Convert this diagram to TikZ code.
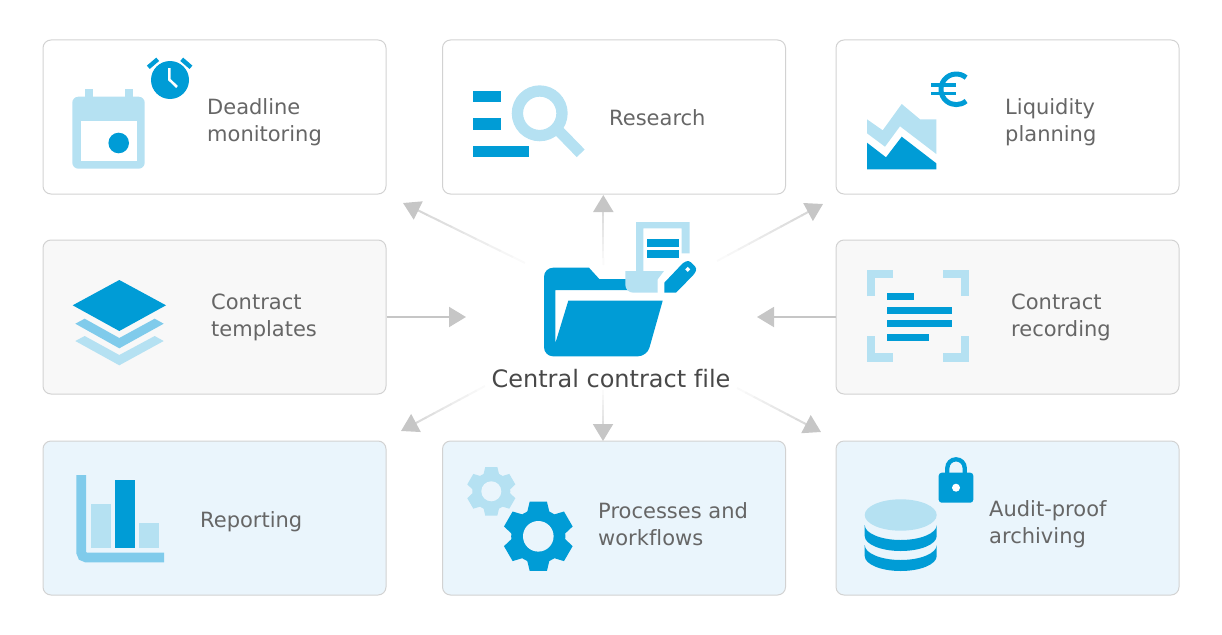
\documentclass[tikz,border=0pt]{standalone}
\usepackage{fontspec}
\setmainfont{DejaVu Sans}[Ligatures=NoCommon]
\usetikzlibrary{arrows.meta,calc}

\definecolor{iconblue}{HTML}{009CD6}
\definecolor{iconmid}{HTML}{80CBEB}
\definecolor{iconlight}{HTML}{B5E1F2}
\definecolor{boxline}{HTML}{D2D2D2}
\definecolor{midfill}{HTML}{F8F8F8}
\definecolor{lowfill}{HTML}{EAF5FC}
\definecolor{arrowgray}{HTML}{C6C6C6}
\definecolor{labelgray}{HTML}{666666}
\definecolor{hubgray}{HTML}{484848}

\tikzset{
    tilebox/.style={draw=boxline, line width=1pt, rounded corners=8pt, minimum width=343pt, minimum height=154pt, inner sep=0pt},
    tilelabel/.style={anchor=west, align=left, inner sep=0pt, text=labelgray, font=\fontsize{21}{27}\selectfont},
    hublabel/.style={anchor=base, inner sep=0pt, text=hubgray, font=\fontsize{24}{28}\selectfont},
    fadeline/.style={line width=2pt},
    arrowline/.style={line width=2pt, draw=arrowgray, -{Triangle[length=17pt,width=20pt,color=arrowgray]}},
    pics/gearicon/.style={code={
        \foreach \a in {30,90,...,330}
            \fill (\a-14:1) -- (\a+14:1) -- (\a+25:0.74) -- (\a-25:0.74) -- cycle;
        \fill (0,0) circle (0.76);
    }}
}

\begin{document}
\begin{tikzpicture}[x=1pt, y=-1pt]
    \useasboundingbox (0,0) rectangle (1222,634);

    % tiles
    \node[tilebox] (deadline) at (214.5,117) {};
    \node[tilebox] (research) at (614,117) {};
    \node[tilebox] (liquidity) at (1007.5,117) {};
    \node[tilebox, fill=midfill] (templates) at (214.5,317) {};
    \node[tilebox, fill=midfill] (recording) at (1007.5,317) {};
    \node[tilebox, fill=lowfill] (reporting) at (214.5,518) {};
    \node[tilebox, fill=lowfill] (workflows) at (614,518) {};
    \node[tilebox, fill=lowfill] (archiving) at (1007.5,518) {};

    \node[tilelabel] (deadlinetext) at (207,122.5) {Deadline\\monitoring};
    \node[tilelabel] (researchtext) at (609,118) {Research};
    \node[tilelabel] (liquiditytext) at (1005,122.5) {Liquidity\\planning};
    \node[tilelabel] (templatestext) at (211,317.5) {Contract\\templates};
    \node[tilelabel] (recordingtext) at (1011,317.5) {Contract\\recording};
    \node[tilelabel] (reportingtext) at (200,522) {Reporting};
    \node[tilelabel] (workflowstext) at (598,524) {Processes and\\workflows};
    \node[tilelabel] (archivingtext) at (989,524.5) {Audit-proof\\archiving};

    % arrows
    \coordinate (tipdeadline) at (403,203);
    \coordinate (taildeadline) at (525,263);
    \coordinate (tipresearch) at (603.3,195);
    \coordinate (tailresearch) at (603.3,265);
    \coordinate (tipliquidity) at (823,204);
    \coordinate (tailliquidity) at (717,261);
    \coordinate (tipreporting) at (401,431);
    \coordinate (tailreporting) at (485,386);
    \coordinate (tipworkflows) at (603,441);
    \coordinate (tailworkflows) at (603,390);
    \coordinate (tiparchiving) at (821,432);
    \coordinate (tailarchiving) at (737,388);
    \coordinate (tiptemplates) at (466,317);
    \coordinate (tiprecording) at (757,317);

    \foreach \tail/\tip in {taildeadline/tipdeadline, tailresearch/tipresearch, tailliquidity/tipliquidity,
            tailreporting/tipreporting, tailworkflows/tipworkflows, tailarchiving/tiparchiving} {
        \foreach \i [evaluate=\i as \s using \i/10, evaluate=\i as \e using (\i+1.05)/10, evaluate=\i as \p using int(8*\i+8)] in {0,...,7}
            \draw[fadeline, draw=arrowgray!\p!white] ($(\tail)!\s!(\tip)$) -- ($(\tail)!\e!(\tip)$);
        \draw[arrowline, draw=arrowgray!70!white] ($(\tail)!0.8!(\tip)$) -- (\tip);
    }
    \draw[arrowline] (templates.east) -- (tiptemplates);
    \draw[arrowline] (recording.west) -- (tiprecording);

    % central folder
    \fill[iconblue] (600,356.3) [rounded corners=9pt] -- (544,356.3) -- (544,267.7) -- (578,267.7) [sharp corners] -- (589,267.7) -- (599.3,279) -- (630,279) -- (630,290) -- (555.3,290) -- (555.3,343.3) -- (568.3,300.7) -- (662.7,300.7) [rounded corners=9pt] -- (647,356.3) [sharp corners] -- (600,356.3) -- cycle;
    \fill[iconlight] (636,222) -- (689.7,222) -- (689.7,253.3) -- (681.7,253.3) -- (681.7,228.3) -- (643.3,228.3) -- (643.3,271) -- (636,271) -- cycle;
    \fill[iconlight] (625.3,271) -- (664,271) -- (657.7,279.3) -- (657.7,292.7) -- (636,292.7) [rounded corners=8pt] -- (625.3,292.7) [sharp corners] -- (625.3,271) -- cycle;
    \fill[iconblue] (646.7,239.3) rectangle (679,247.3);
    \fill[iconblue] (646.7,250.3) rectangle (679,258);
    \fill[iconblue] (664.3,292.7) -- (664.3,282.7) -- (682.7,263.3) [rounded corners=3pt] -- (688.5,260) -- (697,268.3) -- (695,273.3) [sharp corners] -- (676,292.7) -- cycle;
    \fill[white] (687.7,266.8) -- (690.2,269.3) -- (687.7,271.8) -- (685.2,269.3) -- cycle;
    \node[hublabel] (hub) at (611,387.5) {Central contract file};

    % deadline icon
    \fill[iconlight] (84.7,89.3) rectangle (92.7,100);
    \fill[iconlight] (124.7,89.3) rectangle (132.7,100);
    \fill[iconlight, rounded corners=6pt] (72.3,96.7) rectangle (144.7,168.7);
    \fill[white] (80.7,120.7) rectangle (136.7,160.7);
    \fill[iconblue] (118.7,143) circle (10.3);
    \fill[iconblue] (170,80) circle (19);
    \draw[white, line width=2.6pt] (169.3,68) -- (169.3,79.5) -- (177,87);
    \draw[iconblue, line width=4.4pt] (148.3,67.3) -- (157.7,59.3);
    \draw[iconblue, line width=4.4pt] (181.7,59.3) -- (191,67.3);

    % research icon
    \fill[iconblue] (472.7,90.7) rectangle (501,101.7);
    \fill[iconblue] (472.7,118.3) rectangle (501,129.7);
    \fill[iconblue] (472.7,146.3) rectangle (528.7,157.3);
    \draw[iconlight, line width=11.3pt] (539.7,113.3) circle (22.3);
    \draw[iconlight, line width=11pt] (558,130) -- (580.7,153.3);

    % liquidity icon
    \fill[iconlight] (867,119.3) -- (882.7,130.3) -- (901.7,104) -- (920,119.3) -- (936.3,119.3) -- (936.3,154) -- (900,126.3) -- (885,146.7) -- (867,133.3) -- cycle;
    \fill[iconblue] (867,142.7) -- (886,157.3) -- (901.7,136.7) -- (936.3,163.3) -- (936.3,169.3) -- (867,169.3) -- cycle;
    \draw[iconblue, line width=5pt] (966.1,77.6) arc[start angle=50, end angle=310, radius=15.3pt];
    \fill[iconblue] (931,83.3) rectangle (956,87.3);
    \fill[iconblue] (931,91.7) rectangle (956,95.3);

    % templates icon
    \fill[iconlight] (75.3,341) -- (84.7,336) -- (119.3,355) -- (154.7,336) -- (163.7,341) -- (119.3,365.3) -- cycle;
    \fill[iconmid] (75.3,323.7) -- (84.7,318.7) -- (119.3,338) -- (154.7,318.7) -- (163.7,323.7) -- (119.3,348.3) -- cycle;
    \fill[iconblue] (119.3,280) -- (166,305.3) -- (119.3,331) -- (72.7,305.3) -- cycle;

    % recording icon
    \draw[iconlight, line width=8.3pt] (871.2,296) -- (871.2,274.2) -- (893,274.2);
    \draw[iconlight, line width=8.3pt] (943,274.2) -- (964.8,274.2) -- (964.8,296);
    \draw[iconlight, line width=8.3pt] (871.2,336) -- (871.2,357.5) -- (893,357.5);
    \draw[iconlight, line width=8.3pt] (943,357.5) -- (964.8,357.5) -- (964.8,336);
    \fill[iconblue] (887,293) rectangle (914,300);
    \fill[iconblue] (887,306.7) rectangle (952,313.7);
    \fill[iconblue] (887,320) rectangle (952,327);
    \fill[iconblue] (887,334) rectangle (928.7,341);

    % reporting icon
    \draw[iconmid, line width=9.7pt, rounded corners=5pt] (81.2,475) -- (81.2,557.5) -- (164,557.5);
    \fill[iconlight] (91,504) rectangle (110.7,548);
    \fill[iconblue] (115,480) rectangle (135,548);
    \fill[iconlight] (139,523.3) rectangle (159,548);

    % workflows icon
    \pic[scale=25, fill=iconlight] at (491.3,491.3) {gearicon};
    \fill[lowfill] (491.3,491.3) circle (10);
    \pic[scale=35.7, fill=iconblue] at (538.3,536.3) {gearicon};
    \fill[lowfill] (538.3,536.3) circle (15.3);

    % archiving icon
    \fill[iconlight] (900.7,515) ellipse [x radius=36pt, y radius=15.7pt];
    \fill[iconblue] (864.7,525) arc[start angle=180, end angle=360, x radius=36pt, y radius=15pt] -- (936.7,536) arc[start angle=360, end angle=180, x radius=36pt, y radius=15pt] -- cycle;
    \fill[iconblue] (864.7,545) arc[start angle=180, end angle=360, x radius=36pt, y radius=15pt] -- (936.7,556) arc[start angle=360, end angle=180, x radius=36pt, y radius=15pt] -- cycle;
    \draw[iconblue, line width=4.3pt] (947.3,475) -- (947.3,468) arc[start angle=180, end angle=0, radius=8.7pt] -- (964.7,475);
    \fill[iconblue, rounded corners=3pt] (938.7,472.7) rectangle (973.3,502.7);
    \fill[white] (956,487.7) circle (4);
\end{tikzpicture}
\end{document}
